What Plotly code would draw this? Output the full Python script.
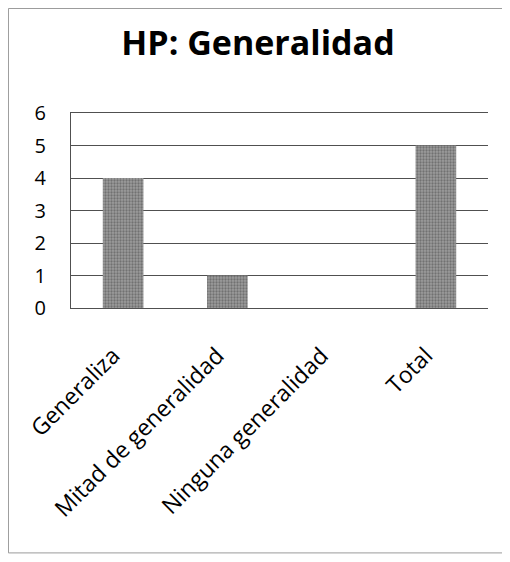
import plotly.graph_objects as go

categories = ["Generaliza", "Mitad de generalidad", "Ninguna generalidad", "Total"]
values = [4, 1, 0, 5]
y_ticks = [0, 1, 2, 3, 4, 5, 6]

FONT = "Open Sans, Noto Sans, sans-serif"
LINE = "#505050"

fig = go.Figure()
fig.add_trace(
    go.Bar(
        x=categories,
        y=values,
        width=0.39,
        marker=dict(
            color="#858585",
            line=dict(width=0),
            pattern=dict(shape=".", fgcolor="#454545", bgcolor="#9c9c9c", size=3, solidity=0.45),
        ),
    )
)

# thin frame around the whole chart (page has an 8px body margin)
fig.add_shape(
    type="rect", xref="paper", yref="paper",
    x0=-0.150, x1=1.048, y0=-1.256, y1=1.536,
    line=dict(color="#9a9a9a", width=1),
)

fig.update_layout(
    width=510,
    height=562,
    margin=dict(l=63, r=30, t=105, b=262),
    paper_bgcolor="white",
    plot_bgcolor="white",
    showlegend=False,
    title=dict(
        text="<b>HP: Generalidad</b>",
        x=250 / 510, xanchor="center", xref="container",
        y=1 - 35 / 562, yanchor="middle",
        font=dict(family=FONT, size=34, color="black"),
    ),
    font=dict(family=FONT, color="black"),
)

fig.update_xaxes(
    tickangle=-45,
    tickfont=dict(size=23, color="black"),
    showgrid=False,
    showline=True,
    mirror=True,
    linecolor=LINE,
    linewidth=1,
    ticks="",
    ticklabelstandoff=24,
    ticklabelshift=-10,
)
fig.update_yaxes(
    range=[0, 6],
    tickvals=y_ticks,
    tickfont=dict(size=20, color="black"),
    showgrid=True,
    gridcolor=LINE,
    gridwidth=1,
    showline=True,
    linecolor=LINE,
    linewidth=1,
    zeroline=False,
    ticks="",
    ticklabelstandoff=20,
)

fig.write_html("out.html")
